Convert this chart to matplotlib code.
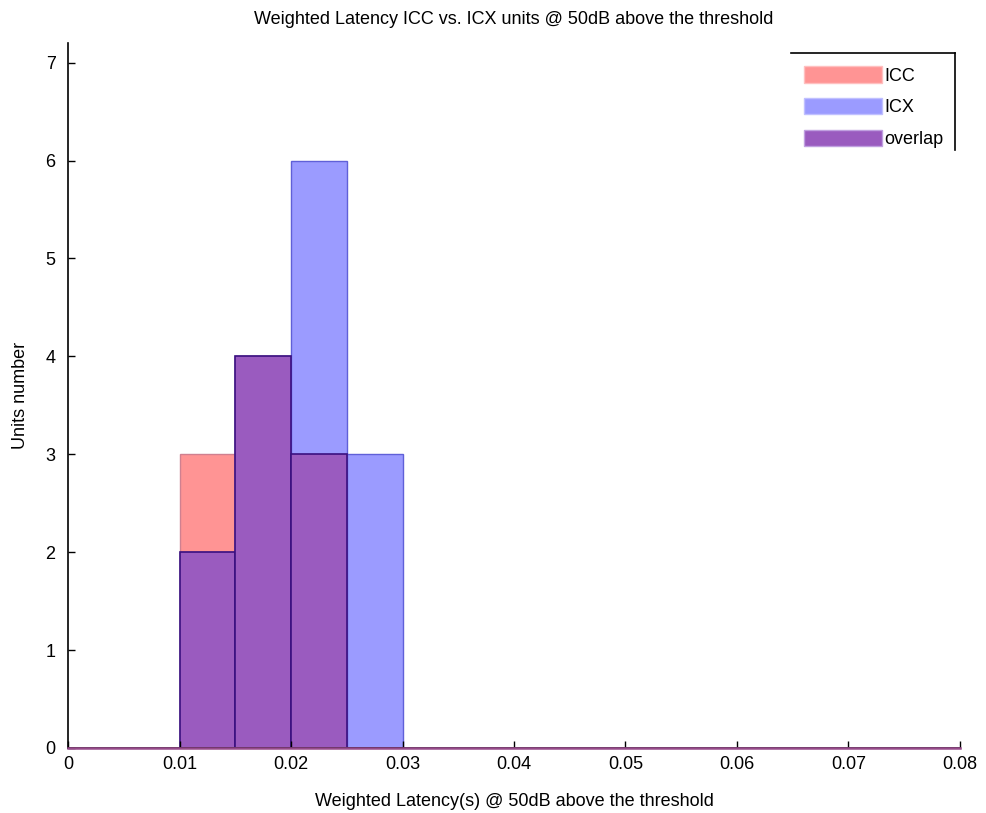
import numpy as np
import matplotlib.pyplot as plt
from matplotlib.patches import Patch

plt.rcParams['font.family'] = ['Liberation Sans', 'DejaVu Sans']

# histogram bins (s) and counts per bin
bin_left = [0.010, 0.015, 0.020, 0.025]
bin_width = 0.005
icc = [3, 4, 3, 0]
icx = [2, 4, 6, 3]
overlap = list(np.minimum(icc, icx))

c_icc = '#ff9494'
c_icx = '#9b9bff'
c_ovl = '#9a5bbf'

fig = plt.figure(figsize=[9.87, 8.13], dpi=100)
ax = fig.add_axes([0.069, 0.080, 0.9035, 0.867])

ax.bar(bin_left, icc, width=bin_width, align='edge', color=c_icc,
       edgecolor='#d08090', linewidth=1)
ax.bar(bin_left, icx, width=bin_width, align='edge', color=c_icx,
       edgecolor='#6060d8', linewidth=1)
ax.bar(bin_left, overlap, width=bin_width, align='edge', color=c_ovl,
       edgecolor='#3a1080', linewidth=1.2)
ax.axhline(0, color='#964a8a', linewidth=1.8, zorder=3, clip_on=False)

ax.set_xlim(0, 0.08)
ax.set_ylim(0, 7.2)
ax.set_xticks(np.arange(0, 0.081, 0.01))
ax.set_xticklabels(['0', '0.01', '0.02', '0.03', '0.04', '0.05', '0.06', '0.07', '0.08'])
ax.set_yticks(range(8))
ax.tick_params(direction='in', length=5, labelsize=13, width=1)
ax.tick_params(axis='y', pad=9)
ax.tick_params(axis='x', pad=6)
ax.spines['top'].set_visible(False)
ax.spines['right'].set_visible(False)
ax.spines['left'].set_linewidth(1.2)
ax.spines['bottom'].set_linewidth(1.2)

ax.set_title('Weighted Latency ICC vs. ICX units @ 50dB above the threshold',
             fontsize=13, pad=14)
ax.set_xlabel('Weighted Latency(s) @ 50dB above the threshold', fontsize=13, labelpad=14)
ax.set_ylabel('Units number', fontsize=13, labelpad=12)

handles = [Patch(facecolor=c_icc, edgecolor='#ffc0c0'),
           Patch(facecolor=c_icx, edgecolor='#c0c0ff'),
           Patch(facecolor=c_ovl, edgecolor='#c0a0e0')]
leg = ax.legend(handles, ['ICC', 'ICX', 'overlap'], loc='upper right',
                bbox_to_anchor=(1.0, 0.99), frameon=False, fontsize=13,
                handlelength=4.3, handleheight=1.0, handletextpad=0.15,
                labelspacing=0.75)

# legend box: only the top and right edges are drawn
ax.plot([0.8105, 0.9944], [0.986, 0.986], transform=ax.transAxes, color='black',
        linewidth=1.2, clip_on=False)
ax.plot([0.9944, 0.9944], [0.986, 0.848], transform=ax.transAxes, color='black',
        linewidth=1.2, clip_on=False)

fig.savefig('out.png', dpi=100)
